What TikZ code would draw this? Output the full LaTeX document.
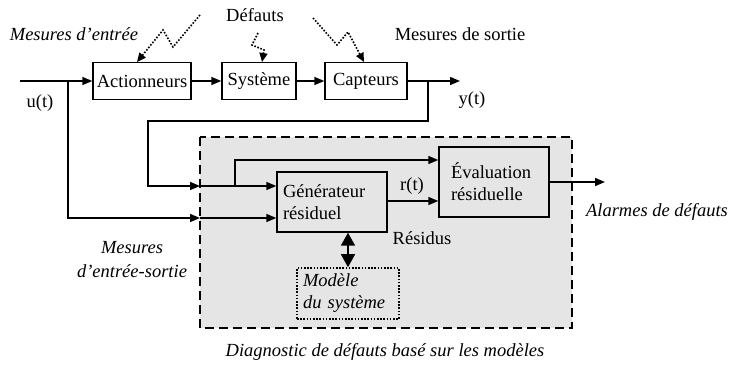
\documentclass[tikz,border=0pt]{standalone}
\usepackage{fontspec}
\setmainfont{Liberation Serif}
\usetikzlibrary{arrows.meta}
\begin{document}
\begin{tikzpicture}[x=1pt,y=-1pt,
  every node/.style={font=\fontsize{18.5}{22}\selectfont},
  blk/.style={draw,line width=1.4pt,fill=white,inner sep=0pt},
  gblk/.style={draw,line width=1.4pt,fill=black!10,inner ysep=0pt,align=left},
  conn/.style={line width=1.4pt,-{Triangle[length=10pt,width=8pt]}},
  zig/.style={line width=1.6pt,dash pattern=on 1.6pt off 1.6pt,-{Triangle[length=9pt,width=8pt]}},
  lbl/.style={inner sep=0pt},
  ilbl/.style={inner sep=0pt,font=\fontsize{18.5}{24}\selectfont\itshape}]
\useasboundingbox (0,0) rectangle (735,366);

% model-based diagnosis area
\draw[line width=2pt,dash pattern=on 9pt off 5pt,fill=black!10] (200,137) rectangle (572,328);

% process chain
\node[blk,minimum width=98pt,minimum height=37pt] (act) at (142,81) {Actionneurs};
\node[blk,minimum width=74pt,minimum height=37pt] (sys) at (259,81) {Système};
\node[blk,minimum width=82pt,minimum height=37pt] (cap) at (366,81) {Capteurs};

% diagnosis blocks
\node[gblk,inner xsep=6pt,text width=98pt,minimum height=60pt] (gen) at (332,202) {Générateur\\résiduel};
\node[gblk,inner xsep=12pt,text width=86pt,minimum height=70pt] (eva) at (494,182) {Évaluation\\résiduelle};
\node[draw,line width=1.6pt,dash pattern=on 1.6pt off 1.6pt,fill=black!10,inner xsep=6pt,inner ysep=0pt,text width=90pt,minimum height=51pt,align=left,font=\fontsize{18.5}{22}\selectfont\itshape] (mod) at (348,293.5) {Modèle\\du système};

% named points of the wiring
\coordinate (uin) at (20,81);
\coordinate (ub) at (68,81);
\coordinate (yb) at (428,81);
\coordinate (yout) at (460,81);
\coordinate (bin1) at (200,186);
\coordinate (bin2) at (200,218);
\coordinate (jn) at (235,186);
\coordinate (alarm) at (605,182);

% main signal path
\draw[conn] (uin) -- (act.west);
\draw[conn] (act.east) -- (sys.west);
\draw[conn] (sys.east) -- (cap.west);
\draw[conn] (cap.east) -- (yout);

% output measurements fed back
\draw[conn] (yb) |- (428,121) -| (148,186) -- (bin1);
\draw[conn] (bin1) -- (gen.west |- bin1);
\draw[conn] (jn) |- (eva.west |- 0,160);

% input measurements
\draw[conn] (ub) |- (bin2);
\draw[conn] (bin2) -- (gen.west |- bin2);

% residuals and alarms
\draw[conn] (gen.east |- 0,201) -- (eva.west |- 0,201);
\draw[conn] (eva.east) -- (alarm);
\draw[line width=1.6pt,{Triangle[length=13pt,width=14pt]}-{Triangle[length=13pt,width=14pt]}] (gen.south -| mod.north) -- (mod.north);

% fault inputs
\draw[zig] (200,15) -- (173,47) -- (163,30) -- (137,62);
\draw[zig] (258,33) -- (252,45) -- (264,50) -- (262,62);
\draw[zig] (313,18) -- (337,45) -- (348,32) -- (364,62);

% labels
\node[ilbl] at (74,34) {Mesures d’entrée};
\node[lbl] at (255,15) {Défauts};
\node[lbl] at (460,34) {Mesures de sortie};
\node[lbl] at (40,103) {u(t)};
\node[lbl] at (472,100) {y(t)};
\node[lbl] at (412,186) {r(t)};
\node[lbl] at (422,238) {Résidus};
\node[ilbl] at (657,212) {Alarmes de défauts};
\node[ilbl,align=center] at (132,260) {Mesures\\d’entrée-sortie};
\node[ilbl] at (385,352) {Diagnostic de défauts basé sur les modèles};
\end{tikzpicture}
\end{document}
